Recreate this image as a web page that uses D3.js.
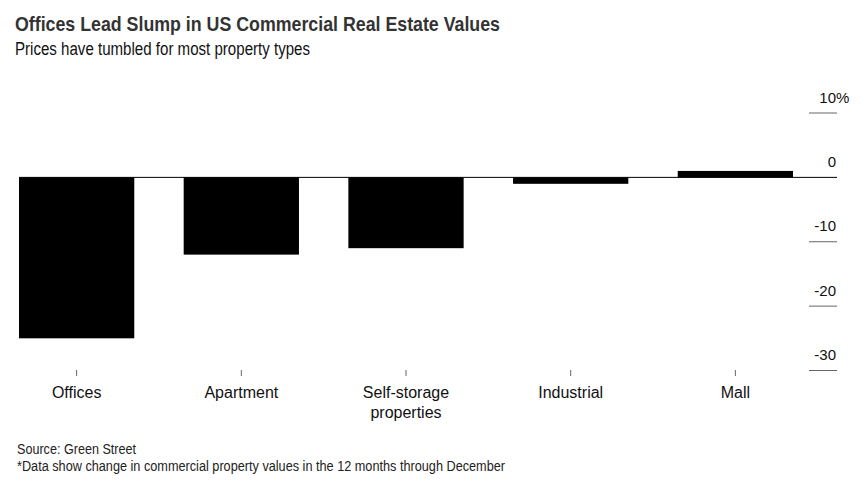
<!DOCTYPE html>
<html>
<head>
  <meta charset="utf-8">
  <title>Offices Lead Slump in US Commercial Real Estate Values</title>
  <script src="https://d3js.org/d3.v7.min.js"></script>
  <style>
    body {
      margin: 0;
      background: #fff;
      font-family: "Liberation Sans", Arial, sans-serif;
    }
    svg {
      display: block;
    }
  </style>
</head>
<body>
<svg width="862" height="482"></svg>
<script>
  const categories = ['Offices', 'Apartment', 'Self-storage properties', 'Industrial', 'Mall'];
  const values = [-25, -12, -11, -1, 1];
  const yTicks = [10, 0, -10, -20, -30];
  const yTickLabels = ['10', '0', '-10', '-20', '-30'];

  const svg = d3.select('svg');

  const x = d3.scaleBand()
    .domain(categories)
    .range([19, 793])
    .paddingInner(0.3)
    .paddingOuter(0);

  const y = d3.scaleLinear()
    .domain([-30, 10])
    .range([370.5, 113]);

  // title + subtitle (the original face is a bit narrower, so squeeze to its width)
  svg.append('text')
    .attr('x', 15)
    .attr('y', 31)
    .attr('font-size', 21)
    .attr('font-weight', 'bold')
    .attr('fill', '#333')
    .attr('textLength', 485)
    .attr('lengthAdjust', 'spacingAndGlyphs')
    .text('Offices Lead Slump in US Commercial Real Estate Values');

  svg.append('text')
    .attr('x', 15)
    .attr('y', 55)
    .attr('font-size', 18)
    .attr('fill', '#111')
    .attr('textLength', 295)
    .attr('lengthAdjust', 'spacingAndGlyphs')
    .text('Prices have tumbled for most property types');

  // y axis on the right: short grid lines with labels above them
  const yAxis = svg.append('g');
  yTicks.forEach((t, i) => {
    if (t !== 0) {
      yAxis.append('line')
        .attr('x1', 809).attr('x2', 837)
        .attr('y1', y(t)).attr('y2', y(t))
        .attr('stroke', '#666')
        .attr('stroke-width', 1);
    }
    yAxis.append('text')
      .attr('x', 836)
      .attr('y', y(t) - 10.5)
      .attr('text-anchor', 'end')
      .attr('font-size', 15)
      .attr('fill', '#111')
      .text(yTickLabels[i]);
    if (i === 0) {
      yAxis.append('text')
        .attr('x', 836)
        .attr('y', y(t) - 10.5)
        .attr('font-size', 15)
        .attr('fill', '#111')
        .text('%');
    }
  });

  // bars
  svg.append('g')
    .selectAll('rect')
    .data(categories)
    .enter().append('rect')
    .attr('x', d => x(d))
    .attr('width', x.bandwidth())
    .attr('y', (d, i) => y(Math.max(0, values[i])))
    .attr('height', (d, i) => Math.abs(y(values[i]) - y(0)))
    .attr('fill', '#000');

  // zero line
  svg.append('line')
    .attr('x1', 19).attr('x2', 837)
    .attr('y1', y(0)).attr('y2', y(0))
    .attr('stroke', '#000')
    .attr('stroke-width', 1);

  // x axis ticks + labels
  const xAxis = svg.append('g');
  categories.forEach(c => {
    const cx = x(c) + x.bandwidth() / 2;
    xAxis.append('line')
      .attr('x1', cx).attr('x2', cx)
      .attr('y1', 370).attr('y2', 376)
      .attr('stroke', '#666');
    const words = c === 'Self-storage properties' ? ['Self-storage', 'properties'] : [c];
    const t = xAxis.append('text')
      .attr('text-anchor', 'middle')
      .attr('font-size', 16)
      .attr('fill', '#111');
    words.forEach((w, j) => {
      t.append('tspan')
        .attr('x', cx)
        .attr('y', 398 + j * 20)
        .text(w);
    });
  });

  // footer
  svg.append('text')
    .attr('x', 17)
    .attr('y', 454)
    .attr('font-size', 14)
    .attr('fill', '#222')
    .attr('textLength', 119)
    .attr('lengthAdjust', 'spacingAndGlyphs')
    .text('Source: Green Street');

  svg.append('text')
    .attr('x', 17)
    .attr('y', 471)
    .attr('font-size', 14)
    .attr('fill', '#222')
    .attr('textLength', 488)
    .attr('lengthAdjust', 'spacingAndGlyphs')
    .text('*Data show change in commercial property values in the 12 months through December');
</script>
</body>
</html>
